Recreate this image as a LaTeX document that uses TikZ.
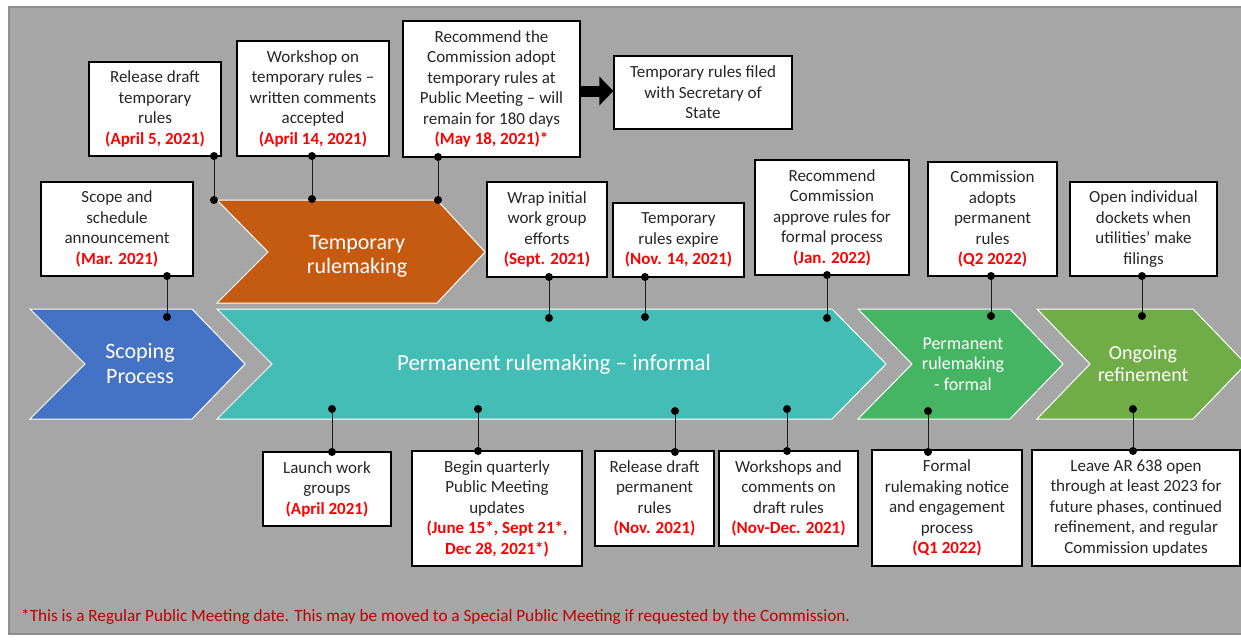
\documentclass[tikz,border=0pt]{standalone}
\usepackage{fontspec}
\setmainfont{Carlito}
\usetikzlibrary{arrows.meta}
\definecolor{bgray}{HTML}{A6A6A6}
\definecolor{bgline}{HTML}{8E8E8E}
\definecolor{cblue}{HTML}{4472C4}
\definecolor{cteal}{HTML}{43BDB6}
\definecolor{corange}{HTML}{C55A11}
\definecolor{cgreen}{HTML}{45B563}
\definecolor{colive}{HTML}{70AD47}
\definecolor{dred}{HTML}{FF0000}
\definecolor{fred}{HTML}{C00000}
\newcommand\datetxt[1]{{\color{dred}\bfseries #1}}
\begin{document}
\begin{tikzpicture}[x=1pt,y=-1pt,
  box/.style={draw=black, line width=1.2pt, fill=white, align=center,
    font=\fontsize{17}{20.5}\selectfont, inner sep=0pt, text=black!85},
  chev/.style={draw=white, line width=1pt},
  chevtext/.style={text=white, align=center},
  conn/.style={line width=1pt, draw=black!90}]
\useasboundingbox (0,0) rectangle (1241,640);
\fill[white] (0,0) rectangle (1241,640);
\draw[fill=bgray, draw=bgline, line width=1.5pt] (9,7) rectangle (1260,634);

% chevrons
\draw[chev, fill=corange] (217,200) -- (437,200) -- (485,252) -- (437,303) -- (217,303) -- (268,252) -- cycle;
\draw[chev, fill=cblue] (30,309) -- (192,309) -- (245,364) -- (192,419) -- (30,419) -- (85,364) -- cycle;
\draw[chev, fill=cteal] (217,309) -- (832,309) -- (886,364) -- (832,419) -- (217,419) -- (272,364) -- cycle;
\draw[chev, fill=cgreen] (858,309) -- (1010,309) -- (1063,364) -- (1010,419) -- (858,419) -- (912,364) -- cycle;
\draw[chev, fill=colive] (1037,309) -- (1193,309) -- (1246,364) -- (1193,419) -- (1037,419) -- (1090,364) -- cycle;

\node[chevtext, font=\fontsize{22}{25}\selectfont] (tscope) at (140,364) {Scoping\\Process};
\node[chevtext, font=\fontsize{22}{24}\selectfont] (ttemp) at (357,256) {Temporary\\rulemaking};
\node[chevtext, font=\fontsize{23}{26}\selectfont] (tinf) at (554,364) {Permanent rulemaking – informal};
\node[chevtext, font=\fontsize{18}{20.5}\selectfont] (tform) at (963,364) {Permanent\\rulemaking\\- formal};
\node[chevtext, font=\fontsize{20}{22}\selectfont] (tong) at (1143,364) {Ongoing\\refinement};

% boxes top
\node[box, minimum width=132, minimum height=94] (rel) at (155,109) {Release draft\\temporary\\rules\\\datetxt{(April 5, 2021)}};
\node[box, minimum width=152, minimum height=115] (ws) at (313,98.5) {Workshop on\\temporary rules –\\written comments\\accepted\\\datetxt{(April 14, 2021)}};
\node[box, minimum width=177, minimum height=136] (rec) at (491.5,89) {Recommend the\\Commission adopt\\temporary rules at\\Public Meeting – will\\remain for 180 days\\\datetxt{(May 18, 2021)*}};
\node[box, minimum width=178, minimum height=73] (filed) at (703,92.5) {Temporary rules filed\\with Secretary of\\State};

% boxes middle
\node[box, minimum width=152, minimum height=94] (scope) at (117,229) {Scope and\\schedule\\announcement\\\datetxt{(Mar. 2021)}};
\node[box, minimum width=120, minimum height=95] (wrap) at (547,229.5) {Wrap initial\\work group\\efforts\\\datetxt{(Sept. 2021)}};
\node[box, minimum width=131, minimum height=74] (expire) at (678.5,240) {Temporary\\rules expire\\\datetxt{(Nov. 14, 2021)}};
\node[box, minimum width=154, minimum height=115] (recf) at (832,217.5) {Recommend\\Commission\\approve rules for\\formal process\\\datetxt{(Jan. 2022)}};
\node[box, minimum width=129, minimum height=114] (adopt) at (992.5,219) {Commission\\adopts\\permanent\\rules\\\datetxt{(Q2 2022)}};
\node[box, minimum width=147, minimum height=94] (open) at (1143.5,229) {Open individual\\dockets when\\utilities’ make\\filings};

% boxes bottom
\node[box, minimum width=128, minimum height=74] (launch) at (327,489) {Launch work\\groups\\\datetxt{(April 2021)}};
\node[box, minimum width=170, minimum height=115] (begin) at (497,508.5) {Begin quarterly\\Public Meeting\\updates\\\datetxt{(June 15*, Sept 21*,}\\\datetxt{Dec 28, 2021*)}};
\node[box, minimum width=119, minimum height=95] (reldp) at (654.5,498.5) {Release draft\\permanent\\rules\\\datetxt{(Nov. 2021)}};
\node[box, minimum width=139, minimum height=95] (wksh) at (788.5,498.5) {Workshops and\\comments on\\draft rules\\\datetxt{(Nov-Dec. 2021)}};
\node[box, minimum width=150, minimum height=116] (formal) at (947,508) {Formal\\rulemaking notice\\and engagement\\process\\\datetxt{(Q1 2022)}};
\node[box, minimum width=208, minimum height=116] (leave) at (1136,508) {Leave AR 638 open\\through at least 2023 for\\future phases, continued\\refinement, and regular\\Commission updates};

% block arrow
\draw[line width=11pt, black, -{Triangle[length=14pt, width=28pt]}] ([yshift=-2]rec.east) -- ([yshift=-2]rec.east -| filed.west);

% connectors
\coordinate (a1) at (214,156); \coordinate (b1) at (214,200);
\coordinate (a2) at (312,156); \coordinate (b2) at (312,199);
\coordinate (a3) at (438,157); \coordinate (b3) at (438,200);
\coordinate (a6) at (167,276); \coordinate (b6) at (167,317);
\coordinate (a7) at (549,277); \coordinate (b7) at (549,318);
\coordinate (a8) at (645,277); \coordinate (b8) at (645,317);
\coordinate (a9) at (827,275); \coordinate (b9) at (827,318);
\coordinate (a10) at (991,276); \coordinate (b10) at (991,316);
\coordinate (a11) at (1142,276); \coordinate (b11) at (1142,316);
\coordinate (a12) at (332,452); \coordinate (b12) at (332,409);
\coordinate (a13) at (478,451); \coordinate (b13) at (478,409);
\coordinate (a14) at (675,452); \coordinate (b14) at (675,411);
\coordinate (a15) at (787,451); \coordinate (b15) at (787,409);
\coordinate (a16) at (928,452); \coordinate (b16) at (928,411);
\coordinate (a17) at (1133,451); \coordinate (b17) at (1133,409);
\foreach \i in {1,2,3,6,7,8,9,10,11,12,13,14,15,16,17}{
  \draw[conn] (a\i) -- (b\i);
  \fill[black] (a\i) circle (4pt);
  \fill[black] (b\i) circle (4pt);
}

% footnote
\node[anchor=west, inner sep=0pt, text=fred, font=\fontsize{17.2}{20}\selectfont] (foot) at (21,617) {*This is a Regular Public Meeting date. This may be moved to a Special Public Meeting if requested by the Commission.};
\end{tikzpicture}
\end{document}
